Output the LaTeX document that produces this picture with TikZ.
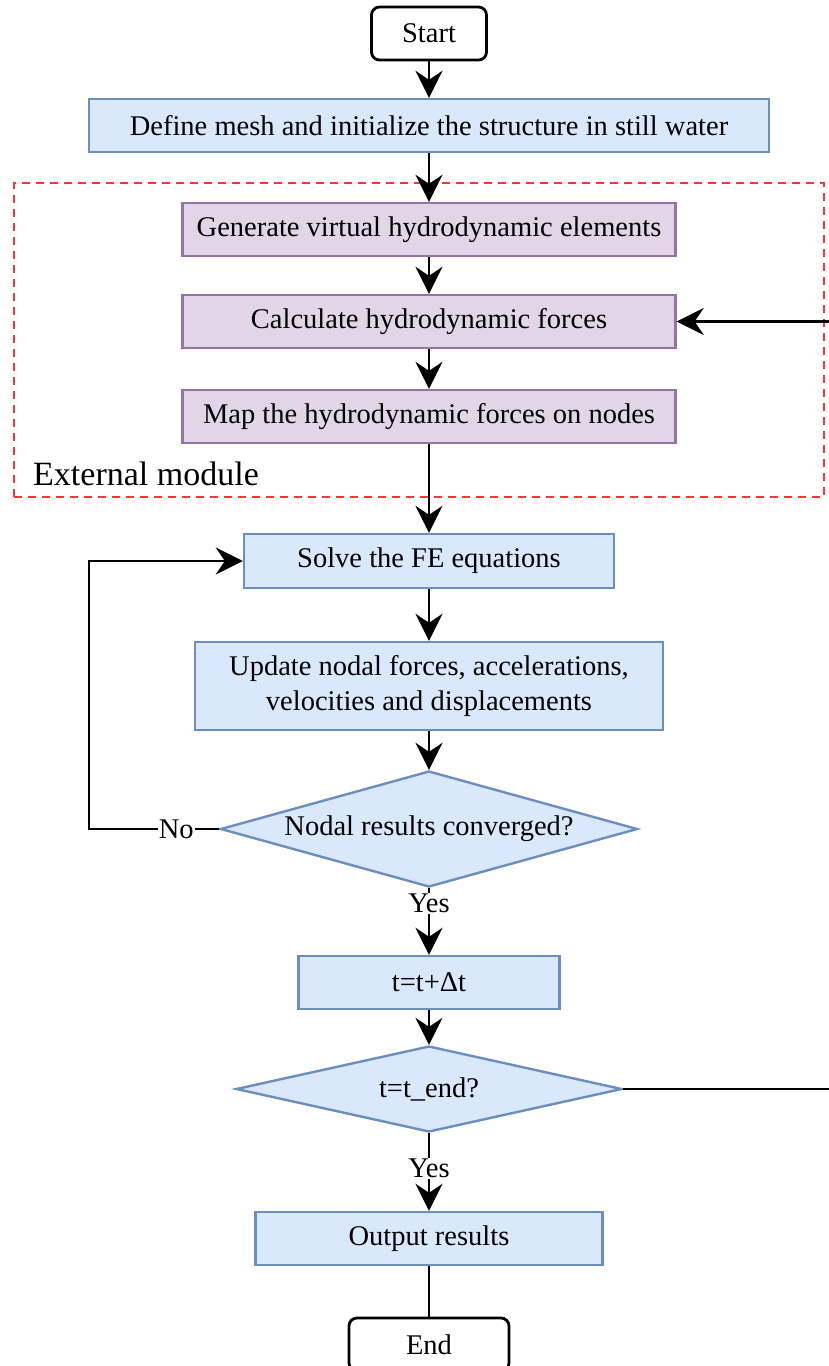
\documentclass[tikz,border=0pt]{standalone}
\usepackage{fontspec}
\setmainfont{Liberation Serif}
\usetikzlibrary{shapes.geometric,arrows.meta}
\definecolor{bfill}{HTML}{DAE8FC}
\definecolor{bline}{HTML}{6C8EBF}
\definecolor{pfill}{HTML}{E1D5E7}
\definecolor{pline}{HTML}{9673A6}
\definecolor{dred}{HTML}{FF3333}
\begin{document}
\begin{tikzpicture}[x=1pt,y=-1pt,
  txt/.style={font=\fontsize{28.5}{34.5}\selectfont},
  term/.style={txt, draw=black, fill=white, rounded corners=8pt, line width=2.8pt, minimum width=115pt, minimum height=53pt, inner sep=0pt},
  bbox/.style={txt, draw=bline, fill=bfill, line width=2.4pt, inner sep=0pt, align=center},
  pbox/.style={txt, draw=pline, fill=pfill, line width=2.4pt, inner sep=0pt, minimum width=493pt, minimum height=53pt},
  dec/.style={txt, diamond, draw=bline, fill=bfill, line width=2.4pt, inner sep=1pt, aspect=3.6},
  conn/.style={line width=2.6pt, draw=black, -{Stealth[length=27pt,width=27pt,inset=9pt]}},
  plainline/.style={line width=2.6pt, draw=black},
  lbl/.style={txt, fill=white, inner sep=1pt},
  frame/.style={draw=dred, line width=2.2pt, dash pattern=on 8pt off 6pt, inner sep=0pt},
]
\useasboundingbox (0,0) rectangle (829,1366);
\node[frame, minimum width=810pt, minimum height=314pt] (ext) at (419,340) {};
\node[term] (start) at (429,33.5) {Start};
\node[bbox, minimum width=680pt, minimum height=53pt] (define) at (429,125.5) {Define mesh and initialize the structure in still water};
\node[pbox] (gen) at (429,229.5) {Generate virtual hydrodynamic elements};
\node[pbox] (calc) at (429,321.5) {Calculate hydrodynamic forces};
\node[pbox] (map) at (429,416.5) {Map the hydrodynamic forces on nodes};
\node[anchor=base west, font=\fontsize{34}{40}\selectfont, inner sep=0pt] (extlbl) at (33,485) {External module};
\node[bbox, minimum width=370pt, minimum height=54pt] (solve) at (429,561) {Solve the FE equations};
\node[bbox, minimum width=468pt, minimum height=88pt] (update) at (429,686) {Update nodal forces, accelerations,\\velocities and displacements};
\node[dec, minimum width=417pt, minimum height=116pt] (conv) at (429,829) {Nodal results converged?};
\node[bbox, minimum width=261pt, minimum height=53pt] (tstep) at (429,982.5) {t=t+Δt};
\node[dec, minimum width=386pt, minimum height=86pt] (tend) at (429,1089) {t=t\_end?};
\node[bbox, minimum width=347pt, minimum height=53pt] (out) at (429,1238.5) {Output results};
\node[term, minimum width=160pt] (end) at (429,1344.5) {End};
\draw[conn] (start) -- (define);
\draw[conn] (define) -- (gen);
\draw[conn] (gen) -- (calc);
\draw[conn] (calc) -- (map);
\draw[conn] (map) -- (solve);
\draw[conn] (solve) -- (update);
\draw[conn] (update) -- (conv);
\draw[conn] (conv) -- node[lbl, pos=0.23]{Yes} (tstep);
\draw[conn] (tstep) -- (tend);
\draw[conn] (tend) -- node[lbl, pos=0.45]{Yes} (out);
\draw[plainline] (out) -- (end);
\coordinate (noL) at (89,829);
\draw[conn] (conv.west) -- node[lbl, pos=0.33]{No} (noL) |- (solve.west);
\coordinate (retR) at (840,1089);
\draw[conn] (tend.east) -- (retR) |- (calc.east);
\end{tikzpicture}
\end{document}
